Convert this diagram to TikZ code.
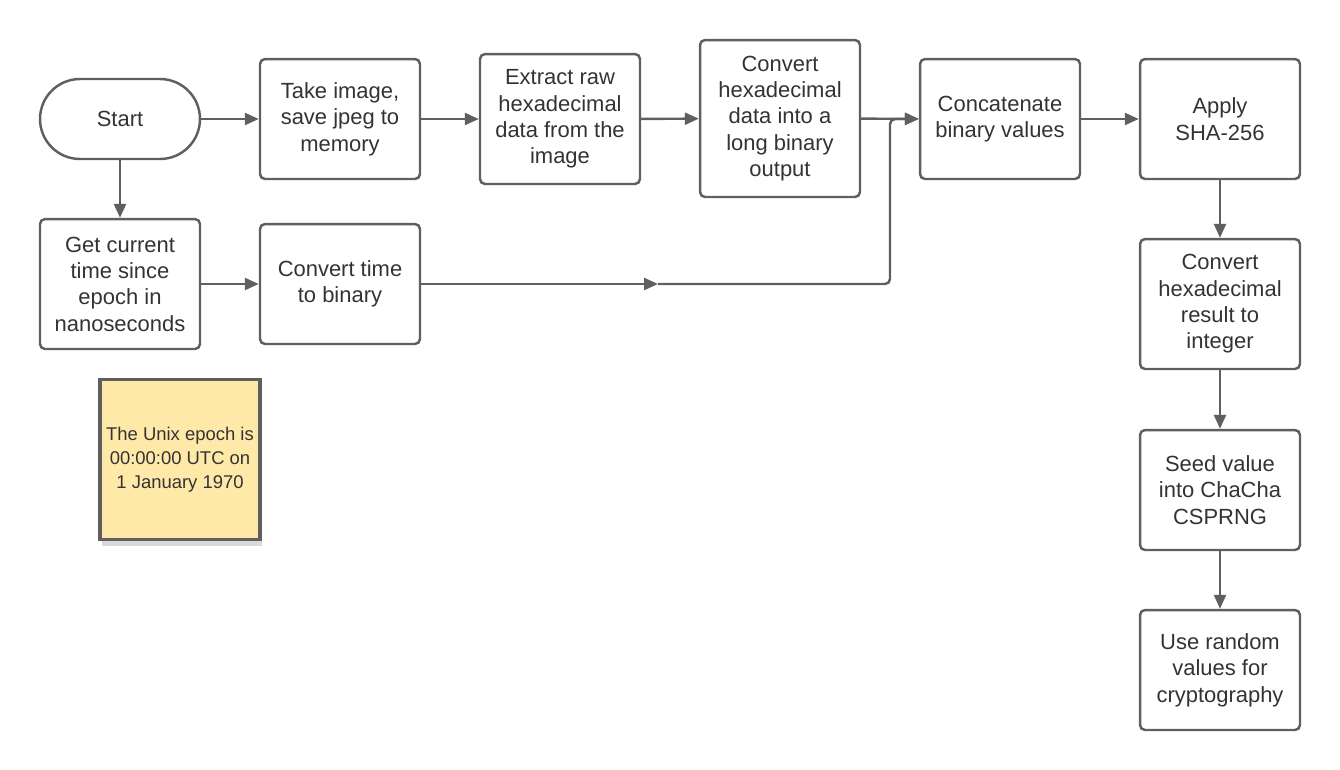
\documentclass[tikz,border=0pt]{standalone}
\usepackage{fontspec}
\setmainfont{Liberation Sans}
\usetikzlibrary{arrows.meta,shadows}
\definecolor{linegray}{HTML}{5F5F5F}
\definecolor{textgray}{HTML}{333333}
\definecolor{noteyellow}{HTML}{FFE9A8}
\begin{document}
\begin{tikzpicture}[x=0.02cm,y=-0.02cm,
            line width=1.4pt,draw=linegray,
            flow/.style={-{Triangle[length=0.28cm,width=0.24cm]},linegray,line width=1.4pt},
            process/.style={draw=linegray,rounded corners=0.1cm,minimum width=3.2cm,
              align=center,text=textgray,font=\fontsize{12.5}{15}\selectfont,inner sep=2pt},
            terminal/.style={process,rounded corners=0.8cm,minimum height=1.6cm},
            note/.style={draw=linegray,fill=noteyellow,line width=1.8pt,minimum width=3.2cm,
              minimum height=3.2cm,align=center,text=textgray,font=\fontsize{10.5}{13.5}\selectfont,
              drop shadow={shadow xshift=0.04cm,shadow yshift=-0.14cm,opacity=0.15,fill=black}}]

        \useasboundingbox (0,0) rectangle (1340,769);

        % Define vertices
        \node[terminal] (start) at (120,119) {Start};
        \node[process,minimum height=2.4cm] (image) at (340,119) {Take image,\\save jpeg to\\memory};
        \node[process,minimum height=2.6cm] (extract) at (560,119) {Extract raw\\hexadecimal\\data from the\\image};
        \node[process,minimum height=3.14cm] (tobin) at (780,118.5) {Convert\\hexadecimal\\data into a\\long binary\\output};
        \node[process,minimum height=2.4cm] (concat) at (1000,119) {Concatenate\\binary values};
        \node[process,minimum height=2.4cm] (sha) at (1220,119) {Apply\\SHA-256};
        \node[process,minimum height=2.6cm] (time) at (120,284) {Get current\\time since\\epoch in\\nanoseconds};
        \node[process,minimum height=2.4cm] (timebin) at (340,284) {Convert time\\to binary};
        \node[process,minimum height=2.6cm] (toint) at (1220,304) {Convert\\hexadecimal\\result to\\integer};
        \node[process,minimum height=2.4cm] (seed) at (1220,490) {Seed value\\into ChaCha\\CSPRNG};
        \node[process,minimum height=2.4cm] (use) at (1220,670) {Use random\\values for\\cryptography};
        \node[note] (epoch) at (180,459.5) {The Unix epoch is\\00:00:00 UTC on\\1 January 1970};

        \coordinate (mid) at (658,284);
        \coordinate (bend) at (890,284);

        % Draw edges
        \path[flow]
            (start) edge (image)
            (image) edge (extract)
            (extract) edge (tobin)
            (tobin) edge (concat)
            (concat) edge (sha)
            (start) edge (time)
            (time) edge (timebin)
            (timebin) edge (mid)
            (sha) edge (toint)
            (toint) edge (seed)
            (seed) edge (use);
        \draw[flow,rounded corners=0.1cm] (mid) -- (bend) |- (concat.west);

        \end{tikzpicture}
\end{document}
